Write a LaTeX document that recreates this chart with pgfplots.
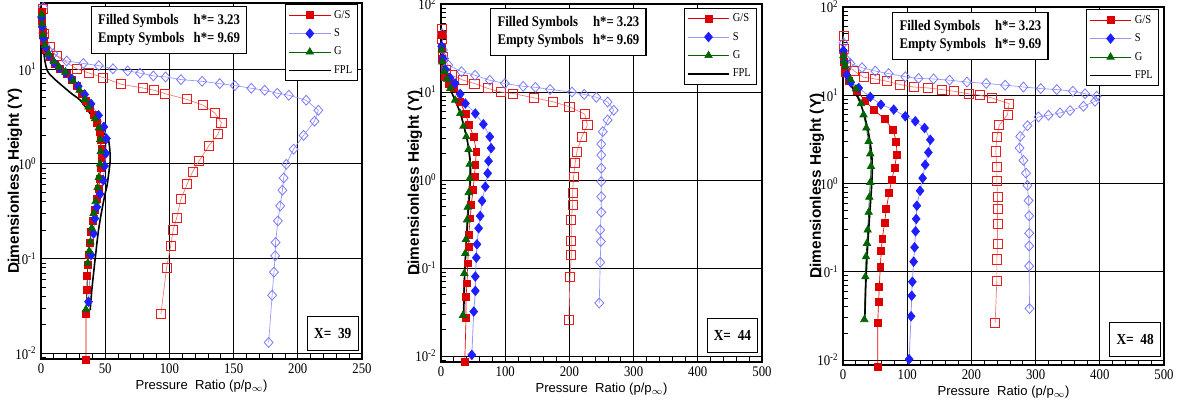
\documentclass[border=0pt]{standalone}
\usepackage{fontspec}
\setmainfont[FakeStretch=0.87]{Liberation Serif}
\setsansfont{Liberation Sans}
\usepackage{pgfplots}
\pgfplotsset{compat=1.18}

\definecolor{cred}{RGB}{221,0,0}
\definecolor{cblue}{RGB}{30,30,255}
\definecolor{cgreen}{RGB}{0,100,0}
\definecolor{ered}{RGB}{230,30,30}
\definecolor{eredl}{RGB}{240,120,120}
\definecolor{eblue}{RGB}{120,120,255}
\definecolor{ebluel}{RGB}{150,150,255}

\pgfplotsset{
  legend image code/.code={
    \draw[#1] (0cm,0cm) -- (1.1cm,0cm);
    \draw[#1] plot coordinates {(0.55cm,0cm)};
  },
  mypanel/.style={
    scale only axis, width=240.75pt,
    xmin=0, clip=false,
    axis line style={line width=1.5pt},
    grid=major, major grid style={black, line width=0.6pt},
    tick align=inside, xtick pos=bottom, ytick pos=left,
    minor x tick num=4,
    major tick length=6pt, minor tick length=4pt,
    every tick/.style={black, line width=0.6pt},
    minor ytick={0.009,0.02,0.03,0.04,0.05,0.06,0.07,0.08,0.09,0.2,0.3,0.4,0.5,0.6,0.7,0.8,0.9,2,3,4,5,6,7,8,9,20,30,40,50,60,70,80,90},
    xlabel={Pressure\ \ Ratio (p/p$_\infty$)},
    ylabel={Dimensionless Height (Y)},
    xlabel style={font=\sffamily\fontsize{9.8}{11}\selectfont,
      at={(axis description cs:0.5,-0.076)}, anchor=center},
    ylabel style={font=\sffamily\bfseries\fontsize{11.5}{13}\selectfont,
      at={(axis description cs:-0.081,0.5)}, anchor=center},
    tick label style={font=\fontsize{11}{12}\selectfont},
    legend style={anchor=north east, draw=black, line width=1pt,
      font=\fontsize{9}{10}\selectfont, row sep=2.4pt, inner sep=2pt},
    legend cell align=left,
  },
  serGS/.style={color=cred, line width=0.5pt, mark=square*, mark size=2.6pt,
    mark options={fill=cred, draw=cred}},
  serS/.style={color=ebluel, line width=0.6pt, mark=diamond*, mark size=3.5pt,
    mark options={fill=cblue, draw=cblue, xscale=1.1}},
  serG/.style={color=cgreen, line width=0.5pt, mark=triangle*, mark size=3.2pt,
    mark options={fill=cgreen, draw=cgreen}},
  serFPL/.style={black, line width=1.2pt, no marks, smooth},
  serGSe/.style={color=eredl, line width=0.5pt, mark=square, mark size=3.4pt,
    mark options={draw=ered, line width=0.6pt}, forget plot},
  serSe/.style={color=ebluel, line width=0.5pt, mark=diamond, mark size=3.7pt,
    mark options={draw=eblue, line width=0.6pt, xscale=1.2}, forget plot},
}
\tikzset{
  boxh/.style={draw=black, line width=0.8pt, fill=white, inner xsep=5pt, inner ysep=4pt,
    font=\bfseries\fontsize{11}{13.5}\selectfont},
  boxx/.style={draw=black, line width=0.8pt, fill=white, minimum width=38pt,
    minimum height=25pt, font=\bfseries\fontsize{11.5}{13}\selectfont},
}

\newcommand{\hstar}{\begin{tabular}{@{}l@{\hspace{7pt}}l@{}}Filled Symbols & h*= 3.23\\ Empty Symbols & h*= 9.69\end{tabular}}

\begin{document}
\begin{tikzpicture}
\path[use as bounding box] (0,0) rectangle (885pt,305.25pt);

% ---------------- X = 39
\begin{semilogyaxis}[mypanel, height=267pt,
  xmax=250, xtick={0,50,...,250}, ymin=0.0087, ymax=50,
  ytick={0.01,0.1,1,10},
  yticklabels={10\textsuperscript{-2},10\textsuperscript{-1},10\textsuperscript{0},10\textsuperscript{1}},
  legend style={at={(0.988,0.997)}},
  /pgf/number format/assume math mode=true,
  at={(30.75pt,36pt)}, anchor=south west]
\addplot[serGSe] coordinates {(1.8,43.6) (2.6,23.7) (7,17.2) (12.2,13.7) (27.7,10.1) (37.5,9.1) (48.5,8.15) (62.4,6.93) (79.2,6.34) (88,6.0) (96.5,5.52) (113.4,4.81) (126.3,4.16) (135.4,3.45) (140.5,2.73) (138,2.07) (130.7,1.55) (123.2,1.08) (118,0.82) (113.9,0.615) (109,0.428) (105.6,0.267) (103,0.203) (101,0.136) (97.8,0.08) (93.4,0.026)};
\addplot[serSe] coordinates {(1.8,45) (1.8,24) (9.6,14.6) (20,12.2) (33,11.5) (45,10.9) (56,10.1) (67.5,9.6) (77.1,9.1) (87.5,8.49) (97,8.28) (109,7.76) (125.5,7.45) (139.2,7.04) (150.9,6.71) (163.8,6.29) (174.2,5.99) (184,5.57) (193,5.31) (206.5,4.7) (216,3.68) (213,2.82) (204.5,2.0) (196.7,1.43) (191,0.99) (189,0.71) (188,0.527) (186.3,0.36) (184.5,0.25) (182.7,0.148) (182.4,0.107) (181.4,0.072) (180,0.041) (177.3,0.013)};
\addplot[serGS] coordinates {(1,40) (1,32) (1.5,25) (2.5,20) (4,16) (7,13.5) (11,11.5) (15,10.2) (20,9.0) (24,7.8) (28,6.6) (32,5.5) (35,4.6) (38,3.9) (41,3.3) (43.5,2.7) (45.5,2.2) (46.5,1.8) (47,1.45) (47,1.15) (46.5,0.9) (46,0.7) (45,0.55) (43.5,0.43) (42,0.33) (40.5,0.25) (39,0.19) (38,0.145) (37,0.11) (36.5,0.085) (36,0.066) (36,0.047) (35,0.026) (35,0.0086)};
\addplot[serS] coordinates {(0.5,35) (1,28) (2,21) (3.5,17) (6,14) (10,11.8) (14,10.3) (19,9.2) (24,7.9) (29,6.6) (34,5.4) (39,4.3) (44.8,3.26) (49,2.46) (51,1.85) (50.5,1.29) (49.5,0.95) (48.5,0.67) (46,0.48) (43.5,0.35) (42,0.265) (41,0.184) (39,0.109) (37,0.035)};
\addplot[serG] coordinates {(0.5,38) (1,30) (1.5,23) (3,18) (6,14.5) (10,12) (14,10.5) (19,9.3) (25,7.5) (30,6) (34,4.8) (37,4.0) (42,3.0) (45,2.4) (46,1.8) (46.5,1.35) (46,1.0) (45,0.72) (44,0.56) (42.5,0.4) (41,0.3) (39.5,0.21) (38.5,0.15) (37.5,0.12) (36.5,0.09) (35,0.029)};
\addplot[serFPL] coordinates {(0.2,45) (0.8,33) (2,15.8) (4.7,9.8) (10,8) (17.6,6.5) (24,5.5) (30.5,4.7) (37,3.6) (43.5,2.7) (48.5,2.15) (52.6,1.78) (53.9,1.19) (53.4,0.93) (51.3,0.575) (50,0.49) (47.5,0.33) (44.8,0.2) (42.2,0.1) (39.6,0.047) (38.3,0.0285)};
\legend{G/S,S,G,FPL}
\node[boxh] at (rel axis cs:0.399,0.924) {\hstar};
\node[boxx] at (rel axis cs:0.909,0.072) {X=\ \ 39};
\end{semilogyaxis}

% ---------------- X = 44
\begin{semilogyaxis}[mypanel, height=268.5pt,
  xmax=500, xtick={0,100,...,500}, ymin=0.00855, ymax=100,
  ytick={0.01,0.1,1,10,100},
  yticklabels={10\textsuperscript{-2},10\textsuperscript{-1},10\textsuperscript{0},10\textsuperscript{1},10\textsuperscript{2}},
  legend style={at={(0.984,0.99)}},
  /pgf/number format/assume math mode=true,
  at={(330.75pt,33.75pt)}, anchor=south west]
\addplot[serGSe] coordinates {(1,52) (1,40) (3,25) (8,18) (16.6,15.5) (34.8,13.6) (52,12.5) (72.7,11) (93,10) (112.6,9.6) (144,8.6) (175,7.74) (200,6.8) (224,5.6) (228,4.2) (219.5,3.1) (211.7,2.1) (209,1.55) (206.5,1.09) (205,0.72) (205,0.52) (203,0.352) (203,0.205) (203,0.141) (201,0.08) (199,0.026)};
\addplot[serSe] coordinates {(1.6,46) (3,30) (5,24) (11.4,20.2) (32,17) (53,15.5) (76,13.6) (99.6,12.5) (128,11.6) (147,11.3) (170,10.7) (204,10) (223,9.4) (242,8.7) (259.5,7.7) (269,6.2) (259.5,4.8) (252,3.54) (249.6,2.56) (249.6,1.92) (249.6,1.36) (249.6,0.96) (249.6,0.647) (249.6,0.43) (248,0.27) (249,0.2) (248,0.116) (246.5,0.04)};
\addplot[serGS] coordinates {(1,45) (1,32) (2,24) (6,15) (12,12.5) (19.7,11) (30,7.7) (38,5.7) (44,4.2) (51,3.1) (55,2.1) (53.5,1.48) (52,1.09) (50,0.77) (47,0.52) (45.7,0.367) (43,0.238) (43,0.175) (41.5,0.113) (40.5,0.067) (39,0.047) (39,0.027) (37,0.0085)};
\addplot[serS] coordinates {(1,33) (3,24) (7,18) (14,14.5) (22,12.5) (30,9.5) (38,7.4) (53.5,5.7) (66,4.3) (76,3.1) (78,2.3) (74,1.64) (72.7,1.19) (69,0.84) (64,0.58) (61,0.39) (58.6,0.283) (56,0.186) (55,0.131) (53.5,0.08) (53.5,0.055) (51,0.032) (48,0.0103)};
\addplot[serG] coordinates {(1,30) (2,22) (5,17) (9.3,14) (14.5,11) (22,8.1) (30,5.7) (35,4.1) (39.4,3.1) (43,2.23) (44.6,1.51) (44.6,1.04) (43,0.72) (41.5,0.49) (40.5,0.352) (38.9,0.212) (37.9,0.147) (36.3,0.087) (34.2,0.029)};
\addplot[serFPL] coordinates {(0.5,40) (1,30) (3,20) (8,14) (15,10.5) (22,8) (30,5.8) (36,4) (41,2.8) (45,1.8) (46,1.2) (45,0.8) (43,0.5) (41,0.3) (39,0.17) (37,0.09) (36,0.05) (35.5,0.03)};
\legend{G/S,S,G,FPL}
\node[boxh] at (rel axis cs:0.397,0.922) {\hstar};
\node[boxx] at (rel axis cs:0.908,0.074) {X=\ \ 44};
\end{semilogyaxis}

% ---------------- X = 48
\begin{semilogyaxis}[mypanel, height=268.5pt,
  xmax=500, xtick={0,100,...,500}, ymin=0.00877, ymax=100,
  ytick={0.01,0.1,1,10,100},
  yticklabels={10\textsuperscript{-2},10\textsuperscript{-1},10\textsuperscript{0},10\textsuperscript{1},10\textsuperscript{2}},
  legend style={at={(0.984,0.994)}},
  /pgf/number format/assume math mode=true,
  at={(632.25pt,31.5pt)}, anchor=south west]
\addplot[serGSe] coordinates {(1,47) (1,33.6) (5,22) (16.6,19) (32.2,16) (50,15.3) (68.5,14.4) (89,13.2) (110,12.4) (132,12.1) (154,11.6) (173,11.1) (195.5,10.4) (213.7,10) (232.4,9.3) (258.8,8.04) (256.2,6.03) (243.3,4.56) (239.6,3.36) (238,2.31) (239.6,1.56) (239.6,1.07) (240.7,0.71) (240.7,0.51) (240.7,0.348) (240.7,0.205) (239.6,0.138) (239.6,0.079) (237,0.0263)};
\addplot[serSe] coordinates {(1,39) (2,30) (6,25) (11.4,22.9) (29.6,20.5) (50.3,18.8) (71,17.6) (97,16.2) (117.7,15.5) (141,15.3) (166,14.8) (193,14.1) (223,13.6) (252.6,13) (281,12.4) (308,11.9) (333,11.6) (358,11.1) (377,10.4) (395,9.75) (392.6,8.55) (374.5,7.5) (353.7,6.7) (338,6.3) (320,5.93) (304.5,5.68) (287.3,4.52) (276,3.42) (275,2.52) (281,1.83) (285,1.31) (287.3,0.95) (289,0.64) (290,0.43) (290,0.273) (290,0.196) (290,0.116) (290.5,0.0383)};
\addplot[serGS] coordinates {(0.5,30) (1,24) (3,18) (8.8,14.4) (21.8,11.1) (34.8,8.55) (47.7,6.87) (64.8,5.38) (77.8,4.07) (83,3.0) (84,2.12) (80,1.49) (76,1.10) (71.6,0.776) (67.4,0.51) (64.8,0.36) (61.2,0.237) (59.6,0.173) (58.1,0.114) (56.5,0.0676) (55.5,0.0456) (54,0.0265) (54,0.0083)};
\addplot[serS] coordinates {(0.5,32) (2,24) (6,17) (12,14) (24.4,12.1) (42.5,9.57) (59,7.83) (79,6.87) (97,5.77) (112.6,5.07) (127,4.25) (136,3.13) (133,2.25) (128,1.63) (124,1.15) (120,0.826) (115,0.56) (114,0.397) (113,0.287) (111.5,0.189) (110,0.13) (108,0.077) (107,0.0534) (106,0.0313) (103,0.0102)};
\addplot[serG] coordinates {(0.5,28) (1.5,24) (3.6,21.4) (11.4,15.1) (20.2,11.8) (28,8.04) (32,6) (36.3,4.25) (40,3.0) (42.5,2.17) (43.6,1.56) (42.5,1.03) (41,0.70) (40,0.472) (38.4,0.297) (37.3,0.21) (35.8,0.148) (34.8,0.0877) (33.2,0.0287)};
\addplot[serFPL] coordinates {(0.5,35) (1,25) (4,18) (10,14) (18,11) (26,8.5) (33,6) (38,4.3) (42,3) (45,2) (45.5,1.3) (44,0.8) (42,0.5) (40,0.3) (37.5,0.15) (35.5,0.07) (34,0.03)};
\legend{G/S,S,G,FPL}
\node[boxh] at (rel axis cs:0.397,0.919) {\hstar};
\node[boxx] at (rel axis cs:0.91,0.071) {X=\ \ 48};
\end{semilogyaxis}
\end{tikzpicture}
\end{document}
